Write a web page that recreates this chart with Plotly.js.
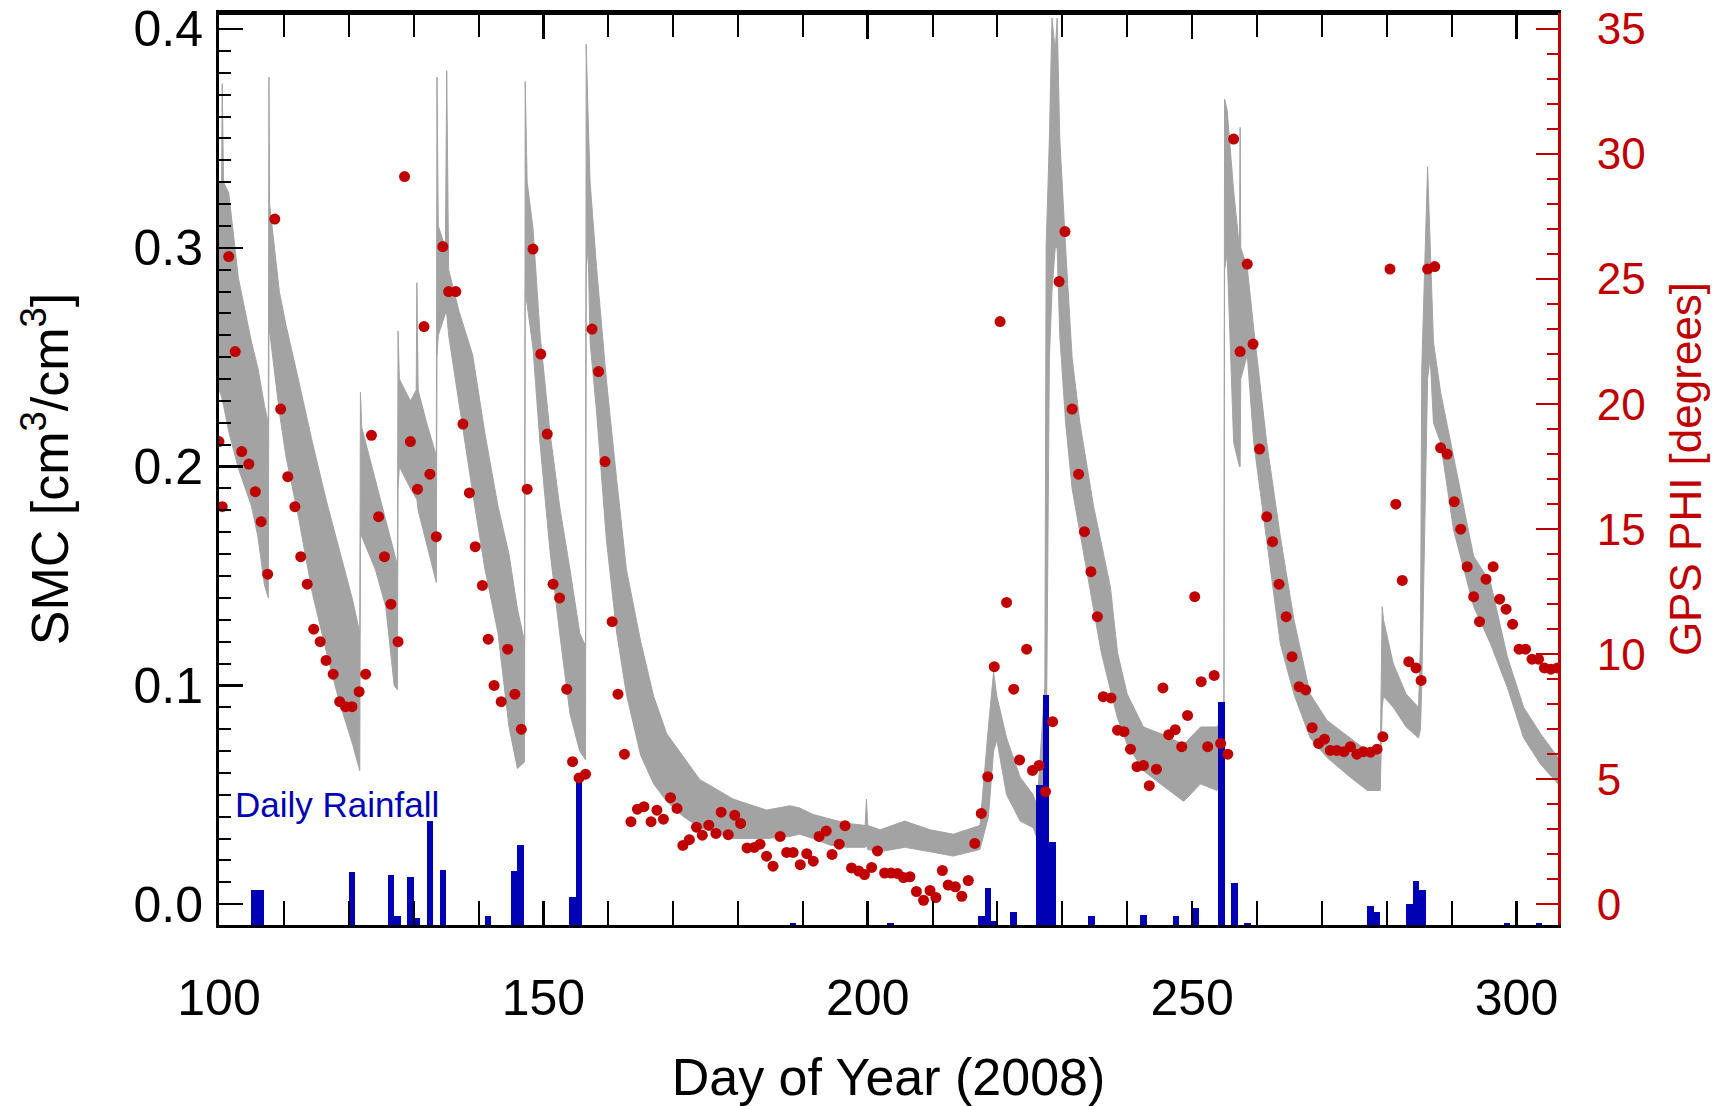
<!DOCTYPE html>
<html>
<head>
<meta charset="utf-8">
<script src="https://cdn.plot.ly/plotly-3.0.1.min.js"></script>
<style>html,body{margin:0;padding:0;background:#fff;}#chart{width:1720px;height:1106px;}</style>
</head>
<body>
<div id="chart"></div>
<script>
// ---- Soil moisture content (SMC) envelope: daily high / low of the gray trace ----
const smcDay = [100.0,100.4,100.5,100.7,101.5,103.0,105.0,106.0,107.0,107.6,107.7,107.8,109.3,110.3,112.3,114.4,116.5,118.5,120.6,121.7,121.8,122.0,124.1,125.7,127.0,127.5,127.6,127.8,129.5,130.4,130.5,130.7,132.0,133.5,133.6,133.8,134.9,135.1,135.4,137.0,139.1,141.0,143.0,144.7,146.0,147.1,147.2,147.5,148.4,149.5,151.0,152.5,154.1,155.6,156.5,156.6,156.9,157.2,158.2,159.7,161.3,162.8,165.0,167.0,169.0,171.6,174.1,179.3,184.4,188.0,189.5,191.6,194.2,196.7,199.6,199.8,200.0,201.9,205.7,209.6,213.2,217.3,218.6,219.4,219.9,221.4,223.5,225.5,226.1,227.3,227.5,228.0,228.4,228.9,229.2,229.6,230.5,231.5,232.7,234.8,236.0,237.4,238.5,240.0,242.5,245.1,248.7,251.3,253.8,254.9,255.0,255.4,256.4,257.3,257.4,257.5,258.5,259.5,261.5,263.6,265.7,268.2,270.8,274.4,277.0,279.0,279.3,279.5,281.0,283.0,284.9,285.2,285.4,286.3,286.7,287.2,288.3,290.3,293.4,296.0,298.6,301.1,303.7,306.4];
const smcHigh = [0.330,0.330,0.375,0.330,0.325,0.286,0.257,0.245,0.228,0.220,0.378,0.320,0.280,0.265,0.239,0.211,0.185,0.162,0.139,0.124,0.234,0.218,0.194,0.176,0.160,0.155,0.262,0.240,0.230,0.235,0.284,0.235,0.220,0.205,0.378,0.310,0.300,0.381,0.290,0.271,0.251,0.215,0.182,0.160,0.135,0.120,0.376,0.330,0.309,0.260,0.216,0.182,0.153,0.124,0.118,0.393,0.360,0.330,0.291,0.240,0.194,0.153,0.120,0.095,0.078,0.067,0.057,0.048,0.043,0.045,0.044,0.041,0.039,0.037,0.036,0.048,0.036,0.034,0.038,0.034,0.032,0.036,0.081,0.106,0.095,0.076,0.058,0.050,0.045,0.100,0.300,0.350,0.405,0.390,0.405,0.350,0.300,0.250,0.220,0.182,0.165,0.145,0.115,0.096,0.081,0.078,0.073,0.081,0.081,0.085,0.368,0.363,0.326,0.300,0.355,0.300,0.291,0.263,0.211,0.168,0.130,0.096,0.084,0.076,0.070,0.068,0.136,0.130,0.110,0.096,0.090,0.120,0.245,0.337,0.300,0.257,0.234,0.205,0.159,0.147,0.113,0.090,0.078,0.067];
const smcLow = [0.235,0.232,0.230,0.228,0.216,0.199,0.182,0.168,0.146,0.140,0.260,0.262,0.225,0.205,0.176,0.142,0.116,0.093,0.073,0.061,0.170,0.168,0.153,0.136,0.100,0.098,0.190,0.200,0.190,0.185,0.185,0.180,0.165,0.147,0.250,0.260,0.270,0.270,0.260,0.228,0.188,0.153,0.124,0.081,0.062,0.065,0.280,0.274,0.254,0.210,0.162,0.124,0.087,0.070,0.066,0.290,0.300,0.257,0.225,0.167,0.124,0.096,0.068,0.055,0.047,0.040,0.035,0.030,0.030,0.031,0.032,0.030,0.027,0.026,0.026,0.027,0.025,0.024,0.026,0.024,0.022,0.025,0.040,0.070,0.075,0.050,0.038,0.035,0.030,0.050,0.060,0.250,0.280,0.300,0.300,0.260,0.220,0.190,0.170,0.136,0.115,0.098,0.085,0.073,0.061,0.055,0.047,0.055,0.052,0.055,0.290,0.297,0.211,0.200,0.200,0.240,0.251,0.211,0.165,0.119,0.096,0.076,0.067,0.058,0.052,0.052,0.090,0.095,0.090,0.081,0.076,0.080,0.100,0.240,0.250,0.220,0.211,0.171,0.136,0.119,0.099,0.076,0.064,0.055];

// ---- GPS PHI (degrees), red dots ----
const phiDay = [100.0,100.5,101.5,102.5,103.5,104.6,105.6,106.5,107.5,108.6,109.5,110.6,111.7,112.6,113.6,114.6,115.6,116.5,117.6,118.6,119.5,120.5,121.6,122.6,123.5,124.6,125.5,126.5,127.6,128.6,129.5,130.6,131.6,132.5,133.5,134.5,135.4,136.5,137.6,138.6,139.5,140.6,141.5,142.4,143.5,144.5,145.6,146.6,147.5,148.4,149.6,150.6,151.5,152.5,153.6,154.5,155.5,156.5,157.5,158.5,159.5,160.6,161.5,162.5,163.5,164.5,165.5,166.6,167.5,168.5,169.6,170.6,171.5,172.5,173.6,174.5,175.5,176.6,177.4,178.5,179.5,180.4,181.4,182.5,183.4,184.4,185.4,186.5,187.5,188.5,189.6,190.6,191.6,192.5,193.6,194.5,195.6,196.5,197.5,198.6,199.5,200.6,201.5,202.6,203.6,204.6,205.5,206.5,207.5,208.6,209.6,210.5,211.5,212.4,213.5,214.5,215.5,216.5,217.5,218.5,219.5,220.4,221.4,222.5,223.4,224.5,225.4,226.4,227.4,228.5,229.5,230.4,231.5,232.5,233.4,234.4,235.4,236.3,237.5,238.5,239.5,240.5,241.5,242.5,243.4,244.5,245.5,246.4,247.4,248.4,249.3,250.4,251.4,252.4,253.4,254.4,255.5,256.4,257.4,258.5,259.4,260.4,261.5,262.4,263.4,264.5,265.4,266.5,267.5,268.5,269.5,270.4,271.3,272.3,273.4,274.4,275.4,276.4,277.5,278.5,279.4,280.5,281.4,282.4,283.4,284.5,285.3,286.3,287.4,288.3,289.3,290.4,291.4,292.4,293.4,294.3,295.3,296.4,297.4,298.4,299.4,300.4,301.4,302.4,303.4,304.3,305.3,306.3];
const phiDeg = [18.5,15.9,25.9,22.1,18.1,17.6,16.5,15.3,13.2,27.4,19.8,17.1,15.9,13.9,12.8,11.0,10.5,9.75,9.2,8.1,7.9,7.9,8.5,9.2,18.75,15.5,13.9,12.0,10.5,29.1,18.5,16.6,23.1,17.2,14.7,26.3,24.5,24.5,19.2,16.45,14.3,12.75,10.6,8.75,8.1,10.2,8.4,7.0,16.6,26.2,22.0,18.8,12.8,12.25,8.6,5.7,5.05,5.2,23.0,21.3,17.7,11.3,8.4,6.0,3.3,3.8,3.9,3.3,3.76,3.4,4.26,3.83,2.35,2.58,3.08,2.76,3.16,2.83,3.68,2.78,3.56,3.23,2.25,2.27,2.4,1.92,1.52,2.71,2.07,2.07,1.58,2.02,1.72,2.71,2.93,1.99,2.4,3.14,1.45,1.33,1.19,1.47,2.13,1.25,1.25,1.23,1.07,1.1,0.51,0.16,0.55,0.27,1.35,0.77,0.7,0.32,0.95,2.43,3.63,5.1,9.5,23.3,12.07,8.6,5.77,10.2,5.35,5.55,4.5,7.3,24.9,26.9,19.8,17.2,14.9,13.3,11.5,8.3,8.25,6.96,6.9,6.2,5.5,5.55,4.74,5.4,8.65,6.78,6.98,6.3,7.55,12.3,8.9,6.3,9.15,6.43,6.0,30.6,22.1,25.6,22.4,18.2,15.5,14.5,12.8,11.5,9.9,8.7,8.57,7.06,6.43,6.6,6.15,6.15,6.1,6.3,6.0,6.1,6.08,6.2,6.7,25.4,16.0,12.95,9.7,9.45,8.95,25.4,25.5,18.25,18.0,16.1,15.0,13.5,12.3,11.3,13.0,13.5,12.2,11.8,11.2,10.2,10.2,9.8,9.8,9.45,9.4,9.45];

// ---- Daily rainfall bars (height above the bottom axis, in SMC-axis units) ----
const rainDay = [105.5,106.5,120.5,126.5,127.5,129.5,130.5,132.5,134.5,141.5,145.5,146.5,154.5,155.5,188.5,203.5,217.5,218.5,219.5,222.5,226.5,227.5,228.5,234.5,242.5,247.5,250.5,254.5,256.5,258.5,277.5,278.5,283.5,284.5,285.5,298.5,303.5];
const rainHeight = [0.016,0.016,0.024,0.023,0.004,0.022,0.003,0.0475,0.025,0.004,0.0246,0.0367,0.013,0.0677,0.001,0.001,0.004,0.017,0.002,0.006,0.064,0.105,0.038,0.004,0.0045,0.004,0.008,0.102,0.019,0.001,0.0087,0.006,0.0095,0.020,0.016,0.001,0.001];

const xTitle = 'Day of Year (2008)';
const yTitle = 'SMC [cm<sup>3</sup>/cm<sup>3</sup>]';
const y2Title = 'GPS PHI [degrees]';
const rainLabel = 'Daily Rainfall';

const FONT = 'Liberation Sans, Arial, Helvetica, sans-serif';
const GRAY = '#a3a3a3';
const RED = '#c00000';
const BLUE = '#0000b4';

const traces = [
  {x: smcDay, y: smcLow, type: 'scatter', mode: 'lines', xaxis: 'x', yaxis: 'y',
   line: {color: GRAY, width: 1}, hoverinfo: 'skip', showlegend: false},
  {x: smcDay, y: smcHigh, type: 'scatter', mode: 'lines', xaxis: 'x', yaxis: 'y',
   fill: 'tonexty', fillcolor: GRAY, line: {color: GRAY, width: 1}, showlegend: false},
  {x: rainDay, y: rainHeight, type: 'bar', xaxis: 'x', yaxis: 'y2', width: 1,
   marker: {color: BLUE, line: {width: 0}}, showlegend: false},
  // dots plotted against a top copy of the day axis (identical range) so the top frame gets its ticks
  {x: phiDay, y: phiDeg, type: 'scatter', mode: 'markers', xaxis: 'x2', yaxis: 'y3',
   marker: {color: RED, size: 11}, showlegend: false}
];

const XRANGE = [100, 306.4];

const layout = {
  width: 1720, height: 1106,
  margin: {l: 219, r: 162, t: 13, b: 181, pad: 0},
  paper_bgcolor: 'white', plot_bgcolor: 'white',
  showlegend: false,
  font: {family: FONT, color: 'black'},
  bargap: 0,
  xaxis: {
    range: XRANGE, tick0: 100, dtick: 50,
    ticks: 'inside', ticklen: 24, tickwidth: 2.5, tickcolor: 'black',
    showline: true, linecolor: 'black', linewidth: 3, mirror: 'allticks',
    showgrid: false, zeroline: false,
    tickfont: {family: FONT, size: 50, color: 'black'}, ticklabelstandoff: 27,
    minor: {dtick: 10, tick0: 100, ticks: 'inside', ticklen: 13, tickwidth: 2, tickcolor: 'black', showgrid: false},
    title: {text: xTitle, font: {family: FONT, size: 52, color: 'black'}, standoff: 36},
    automargin: false
  },
  xaxis2: {
    overlaying: 'x', side: 'top', anchor: 'free', position: 1,
    range: XRANGE, tick0: 100, dtick: 50,
    ticks: 'inside', ticklen: 24, tickwidth: 2.5, tickcolor: 'black',
    showline: true, linecolor: 'black', linewidth: 3,
    showgrid: false, zeroline: false, showticklabels: false,
    minor: {dtick: 10, tick0: 100, ticks: 'inside', ticklen: 13, tickwidth: 2, tickcolor: 'black', showgrid: false},
    automargin: false
  },
  yaxis: {
    range: [-0.0095, 0.4073], tick0: 0, dtick: 0.1, tickformat: '.1f',
    ticks: 'inside', ticklen: 24, tickwidth: 2.5, tickcolor: 'black',
    showline: true, linecolor: 'black', linewidth: 3,
    showgrid: false, zeroline: false, ticklabeloverflow: 'allow',
    tickfont: {family: FONT, size: 50, color: 'black'}, ticklabelstandoff: 3,
    minor: {dtick: 0.01, tick0: 0, ticks: 'inside', ticklen: 12, tickwidth: 2, tickcolor: 'black', showgrid: false},
    title: {text: yTitle, font: {family: FONT, size: 52, color: 'black'}, standoff: 49},
    automargin: false
  },
  yaxis2: {overlaying: 'y', range: [0, 0.4168], visible: false, showgrid: false, zeroline: false},
  yaxis3: {
    overlaying: 'y', side: 'right', anchor: 'x',
    range: [-0.83, 35.64], tick0: 0, dtick: 5,
    ticks: 'inside', ticklen: 22, tickwidth: 2.5, tickcolor: RED,
    showline: true, linecolor: RED, linewidth: 3,
    showgrid: false, zeroline: false, ticklabeloverflow: 'allow',
    tickfont: {family: FONT, size: 44, color: RED}, ticklabelstandoff: 27,
    minor: {dtick: 1, tick0: 0, ticks: 'inside', ticklen: 11, tickwidth: 2, tickcolor: RED, showgrid: false},
    title: {text: y2Title, font: {family: FONT, size: 44, color: RED}, standoff: 26},
    automargin: false
  },
  annotations: [{
    text: rainLabel, xref: 'paper', yref: 'paper', x: 0.0102, y: 0.132,
    xanchor: 'left', yanchor: 'middle', showarrow: false,
    font: {family: FONT, size: 35, color: BLUE}
  }]
};

Plotly.newPlot('chart', traces, layout, {displayModeBar: false, staticPlot: true});
</script>
</body>
</html>
